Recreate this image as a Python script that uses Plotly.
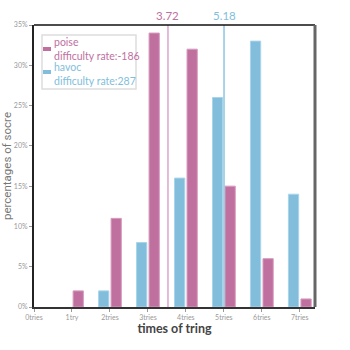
import plotly.graph_objects as go

categories = ["0tries", "1try", "2tries", "3tries", "4tries", "5tries", "6tries", "7tries"]
poise = [0, 2, 11, 34, 32, 15, 6, 1]
havoc = [0, 0, 2, 8, 16, 26, 33, 14]
poise_mean = 3.72
havoc_mean = 5.18
y_ticks = [0, 5, 10, 15, 20, 25, 30, 35]
y_tick_text = [f"{v}%" for v in y_ticks]
legend_entries = [
    ("poise", "difficulty rate:-186"),
    ("havoc", "difficulty rate:287"),
]

PINK = "#c0709f"
BLUE = "#82bedb"
PINK_LINE = "#dba6c9"
BLUE_LINE = "#8cc6e0"
FONT = "Lato"

xs = list(range(len(categories)))

# plot area in pixels (for layout helpers)
L, R, T, B = 34, 35, 25, 43
W = H = 350
PW, PH = W - L - R, H - T - B


def px(x):
    return (x - L) / PW


def py(y):
    return (H - B - y) / PH


fig = go.Figure()
fig.add_trace(go.Bar(
    x=xs, y=havoc, width=0.27, offset=-0.30,
    marker=dict(color=BLUE, line=dict(color="#a9d5ea", width=[1 if v else 0 for v in havoc])),
    showlegend=False, name="havoc",
))
fig.add_trace(go.Bar(
    x=xs, y=poise, width=0.27, offset=0.03,
    marker=dict(color=PINK, line=dict(color="#d79cbf", width=[1 if v else 0 for v in poise])),
    showlegend=False, name="poise",
))
fig.add_trace(go.Scatter(
    x=[poise_mean, poise_mean], y=[0, 35], xaxis="x2", mode="lines",
    line=dict(color=PINK_LINE, width=1.5), showlegend=False, hoverinfo="skip",
))
fig.add_trace(go.Scatter(
    x=[havoc_mean, havoc_mean], y=[0, 35], xaxis="x2", mode="lines",
    line=dict(color=BLUE_LINE, width=1.5), showlegend=False, hoverinfo="skip",
))

annotations = []
for v, c in [(poise_mean, PINK), (havoc_mean, BLUE)]:
    annotations.append(dict(x=v, y=35, xref="x2", yref="y", text=f"{v:.2f}",
                            showarrow=False, yanchor="bottom", yshift=1,
                            font=dict(color=c, size=11.5, family=FONT)))

# legend box built from text annotations
shapes = [
    dict(type="rect", xref="paper", yref="paper", x0=px(42), x1=px(136), y0=py(89), y1=py(35),
         line=dict(color="#dddddd", width=1.5), fillcolor="white", layer="above"),
]
entry_y = [49, 73.5]
marker_y = [(47, 51), (70, 74)]
for (title, sub), c, yy, (my0, my1) in zip(legend_entries, [PINK, BLUE], entry_y, marker_y):
    annotations.append(dict(x=px(52), y=py(yy), xref="paper", yref="paper",
                            text=f"{title}<br>{sub}", align="left",
                            showarrow=False, xanchor="left", yanchor="middle",
                            font=dict(color=c, size=10.5, family=FONT)))
    shapes.append(dict(type="rect", xref="paper", yref="paper", x0=px(43), x1=px(51),
                       y0=py(my1), y1=py(my0), line=dict(width=0), fillcolor=c, layer="above"))

shapes += [
    dict(type="line", xref="paper", yref="paper", x0=0, x1=1, y0=1, y1=1,
         line=dict(color="#111", width=1.5)),
    dict(type="line", xref="paper", yref="paper", x0=1, x1=1, y0=0, y1=1,
         line=dict(color="#666", width=3)),
]

fig.update_layout(
    width=W, height=H,
    margin=dict(l=L, r=R, t=T, b=B, autoexpand=False),
    paper_bgcolor="white", plot_bgcolor="white",
    font=dict(family=FONT, color="#666"),
    showlegend=False,
    xaxis=dict(
        range=[0, 7.4], tickvals=xs, ticktext=categories,
        tickfont=dict(size=7, color="#999", family=FONT),
        showgrid=False, zeroline=False, automargin=False,
        showline=True, linecolor="#333", linewidth=2,
        ticks="outside", ticklen=3, tickcolor="#999",
        title=dict(text="<b>times of tring</b>", font=dict(size=12.5, color="#444", family=FONT), standoff=1),
    ),
    xaxis2=dict(range=[0.23, 7.55], overlaying="x", visible=False),
    yaxis=dict(
        range=[0, 35], tickvals=y_ticks, ticktext=y_tick_text,
        tickfont=dict(size=7, color="#999", family=FONT),
        showgrid=False, zeroline=False, automargin=False,
        showline=True, linecolor="#222", linewidth=2,
        ticks="outside", ticklen=3, tickcolor="#999",
        title=dict(text="percentages of socre", font=dict(size=11.5, color="#777", family="Roboto"), standoff=2),
    ),
    shapes=shapes,
    annotations=annotations,
)

fig.write_html("out.html")
